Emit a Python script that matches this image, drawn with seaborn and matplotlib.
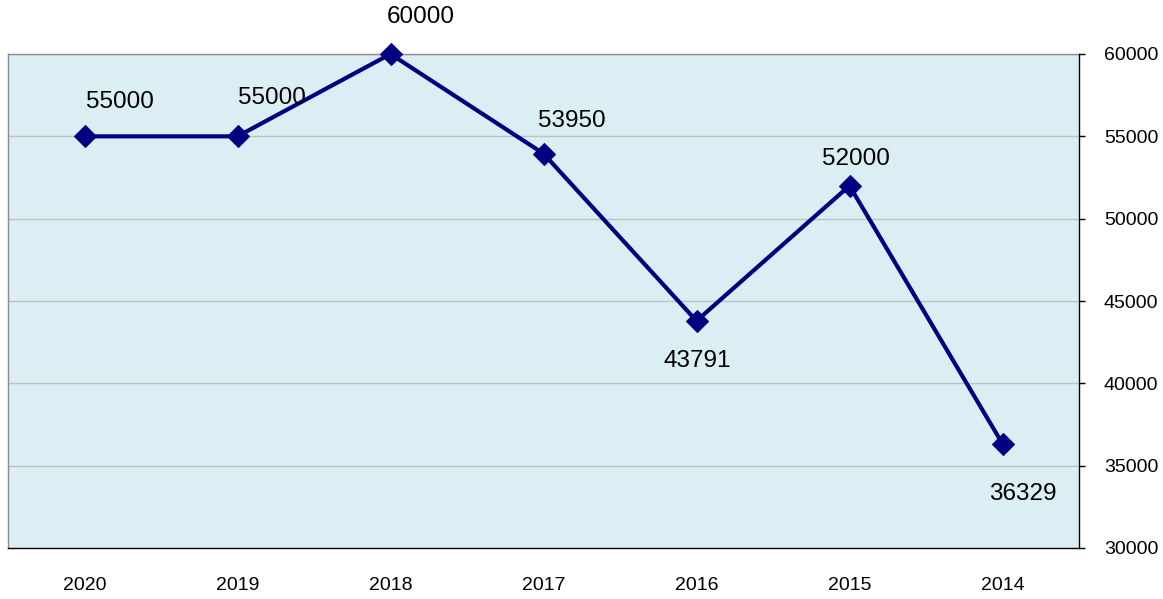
import numpy as np
import pandas as pd
import matplotlib
matplotlib.use("Agg")
import matplotlib.pyplot as plt
import seaborn as sns
from matplotlib.ticker import FixedLocator, MultipleLocator

years = ["2020", "2019", "2018", "2017", "2016", "2015", "2014"]
values = [55000, 55000, 60000, 53950, 43791, 52000, 36329]
# label offsets in pixels (dx, dy) from each point
label_offsets = [(35, 34), (34, 38), (30, 37), (28, 33), (1, -40), (6, 27), (20, -50)]

sns.set_style("white")
plt.rcParams["font.family"] = ["Liberation Sans", "DejaVu Sans"]

df = pd.DataFrame({"pos": np.arange(len(years)), "value": values})

fig = plt.figure(figsize=(11.63, 5.99), dpi=100)
ax = fig.add_axes([8 / 1163, 51 / 599, 1071 / 1163, 494 / 599])
ax.set_facecolor("#DBEEF3")

sns.lineplot(data=df, x="pos", y="value", ax=ax, color="#000080", linewidth=3,
             marker="D", markersize=11, markeredgecolor="#000080", zorder=3,
             clip_on=False)

for x, v, (dx, dy) in zip(df["pos"], values, label_offsets):
    ax.annotate(str(v), (x, v), xytext=(dx, dy), textcoords="offset pixels",
                ha="center", va="center", fontsize=17.5, color="black")

ax.set_xlim(-0.5, len(years) - 0.5)
ax.set_ylim(30000, 60000)
ax.yaxis.set_major_locator(MultipleLocator(5000))
ax.yaxis.tick_right()
ax.grid(axis="y", color="#C0C0C0", linewidth=1)
ax.set_axisbelow(True)

ax.set_xticks(df["pos"])
ax.set_xticklabels(years)
ax.xaxis.set_minor_locator(FixedLocator(np.arange(len(years) + 1) - 0.5))
ax.tick_params(axis="x", which="major", length=0, pad=21, labelsize=14, labelcolor="black")
ax.tick_params(axis="x", which="minor", length=5, width=1, color="black", direction="out")
ax.tick_params(axis="y", which="major", length=4, width=1, color="black",
               direction="out", pad=14, labelsize=14, labelcolor="black",
               right=True, left=False)

ax.set_xlabel("")
ax.set_ylabel("")
for side in ["top", "left"]:
    ax.spines[side].set_color("#8C8C8C")
    ax.spines[side].set_linewidth(1)
    ax.spines[side].set_zorder(1)
for side in ["bottom", "right"]:
    ax.spines[side].set_color("black")
    ax.spines[side].set_linewidth(1)

fig.savefig("out.png", dpi=100)
